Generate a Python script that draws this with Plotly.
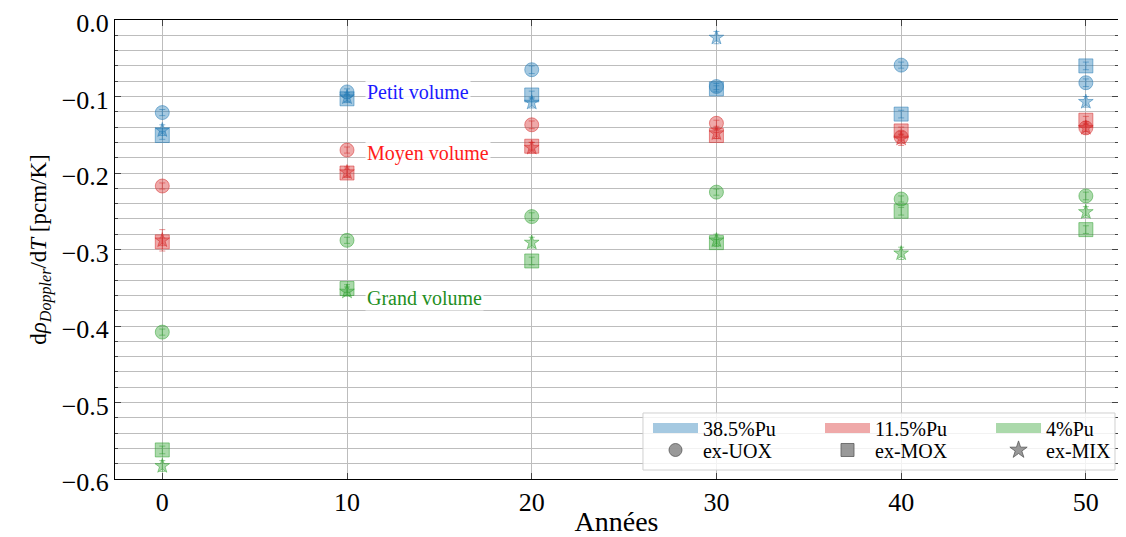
import plotly.graph_objects as go

years = [0, 10, 20, 30, 40, 50]
y_ticks = [-0.6, -0.5, -0.4, -0.3, -0.2, -0.1, 0.0]

# 38.5%Pu (petit volume)
pu385_uox = [-0.121, -0.094, -0.065, -0.087, -0.059, -0.082]
pu385_mox = [-0.151, -0.103, -0.098, -0.090, -0.123, -0.060]
pu385_mix = [-0.144, -0.101, -0.108, -0.023, None, -0.107]
# 11.5%Pu (moyen volume)
pu115_uox = [-0.217, -0.170, -0.137, -0.135, -0.153, -0.141]
pu115_mox = [-0.290, -0.200, -0.165, -0.151, -0.145, -0.131]
pu115_mix = [-0.288, -0.199, -0.167, -0.148, -0.155, -0.141]
# 4%Pu (grand volume)
pu4_uox = [-0.408, -0.288, -0.257, -0.225, -0.234, -0.230]
pu4_mox = [-0.562, -0.351, -0.315, -0.291, -0.250, -0.274]
pu4_mix = [-0.583, -0.355, -0.291, -0.288, -0.305, -0.251]

err_uox = [0.004, 0.004, 0.005, 0.004, 0.004, 0.005]
err_mox = [0.005, 0.005, 0.005, 0.004, 0.005, 0.005]
err_mix = [0.007, 0.006, 0.007, 0.008, 0.008, 0.007]
err_mix_115 = [0.014, 0.007, 0.007, 0.007, 0.009, 0.008]

colors = {"38.5%Pu": "#1f77b4", "11.5%Pu": "#d62728", "4%Pu": "#2ca02c"}
labels_pu = ["38.5%Pu", "11.5%Pu", "4%Pu"]
fuel_labels = ["ex-UOX", "ex-MOX", "ex-MIX"]
symbols = {"ex-UOX": "circle", "ex-MOX": "square", "ex-MIX": "star"}
sizes = {"ex-UOX": 14, "ex-MOX": 14, "ex-MIX": 11}

series = {
    "38.5%Pu": {"ex-UOX": (pu385_uox, err_uox), "ex-MOX": (pu385_mox, err_mox), "ex-MIX": (pu385_mix, err_mix)},
    "11.5%Pu": {"ex-UOX": (pu115_uox, err_uox), "ex-MOX": (pu115_mox, err_mox), "ex-MIX": (pu115_mix, err_mix_115)},
    "4%Pu": {"ex-UOX": (pu4_uox, err_uox), "ex-MOX": (pu4_mox, err_mox), "ex-MIX": (pu4_mix, err_mix)},
}

annotations_txt = [("Petit volume", -0.094, "#1a1aff"), ("Moyen volume", -0.174, "#ff1a1a"), ("Grand volume", -0.363, "#1f8f1f")]

FONT = "Liberation Serif"

def rgba(hexc, a):
    h = hexc.lstrip("#")
    r, g, b = int(h[0:2], 16), int(h[2:4], 16), int(h[4:6], 16)
    return f"rgba({r},{g},{b},{a})"

fig = go.Figure()
for pu in labels_pu:
    c = colors[pu]
    for fuel in fuel_labels:
        vals, err = series[pu][fuel]
        fig.add_trace(go.Scatter(
            x=years, y=vals, mode="markers", showlegend=False,
            marker=dict(symbol=symbols[fuel], size=sizes[fuel], color=rgba(c, 0.4),
                        line=dict(color=rgba(c, 0.5), width=1)),
            error_y=dict(type="data", array=err, color=rgba(c, 0.5), thickness=1, width=3),
        ))

# legend: 3 columns x 2 rows, one single-entry legend per cell
col_x = [0.5314, 0.7029, 0.8734]
row_y = [0.111, 0.0632]
leg_layout = {}
for i in range(3):
    pu = labels_pu[i]
    fuel = fuel_labels[i]
    lid_a = "legend" if i == 0 else f"legend{2 * i + 1}"
    lid_b = f"legend{2 * i + 2}"
    fig.add_trace(go.Scatter(x=[None], y=[None], mode="lines", name=pu, legend=lid_a,
                             line=dict(color=rgba(colors[pu], 0.4), width=15)))
    fig.add_trace(go.Scatter(x=[None], y=[None], mode="markers", name=fuel, legend=lid_b,
                             marker=dict(symbol=symbols[fuel], size=13, color="rgba(128,128,128,0.8)",
                                         line=dict(color="rgba(90,90,90,0.8)", width=1))))
    for lid, yy in ((lid_a, row_y[0]), (lid_b, row_y[1])):
        leg_layout[lid] = dict(x=col_x[i], xanchor="left", y=yy, yanchor="middle",
                               font=dict(size=20), bgcolor="rgba(0,0,0,0)", itemwidth=45)

for txt, yv, col in annotations_txt:
    fig.add_annotation(x=11, y=yv, text=txt, showarrow=False, xanchor="left", yanchor="middle",
                       font=dict(family=FONT, size=20, color=col), bgcolor="rgba(255,255,255,0.85)",
                       borderpad=1)

fig.add_shape(type="rect", xref="paper", yref="paper", x0=0.5264, x1=0.997, y0=0.0196, y1=0.1438,
              fillcolor="rgba(255,255,255,0.8)", line=dict(color="#d0d0d0", width=1), layer="above")

grid = "#bdbdbd"
fig.update_layout(
    width=1110, height=529,
    margin=dict(l=107, r=0, t=12, b=58, autoexpand=False),
    paper_bgcolor="white", plot_bgcolor="white",
    font=dict(family=FONT, color="black"),
    xaxis=dict(range=[-2.56, 51.74], tickvals=years, ticks="inside", ticklen=6, mirror="ticks",
               showline=True, linecolor="black", linewidth=1, showgrid=True, gridcolor=grid, gridwidth=1,
               zeroline=False, tickfont=dict(size=26), automargin=False, ticklabeloverflow="allow",
               title=dict(text="Années", font=dict(size=28), standoff=0)),
    yaxis=dict(range=[-0.6, 0.0], tickvals=y_ticks, tickformat=".1f", ticks="inside", ticklen=6,
               mirror="ticks", showline=True, linecolor="black", linewidth=1, showgrid=True,
               gridcolor=grid, gridwidth=1, zeroline=False, tickfont=dict(size=26),
               automargin=False, ticklabeloverflow="allow", ticklabelshift=3,
               minor=dict(dtick=0.02, ticks="inside", ticklen=3, showgrid=True, gridcolor=grid, gridwidth=1),
               title=dict(text="d<i>ρ</i><sub><i>Doppler</i></sub>/d<i>T</i> [pcm/K]", font=dict(size=23), standoff=8)),
    **leg_layout,
)

fig.write_html("out.html")
